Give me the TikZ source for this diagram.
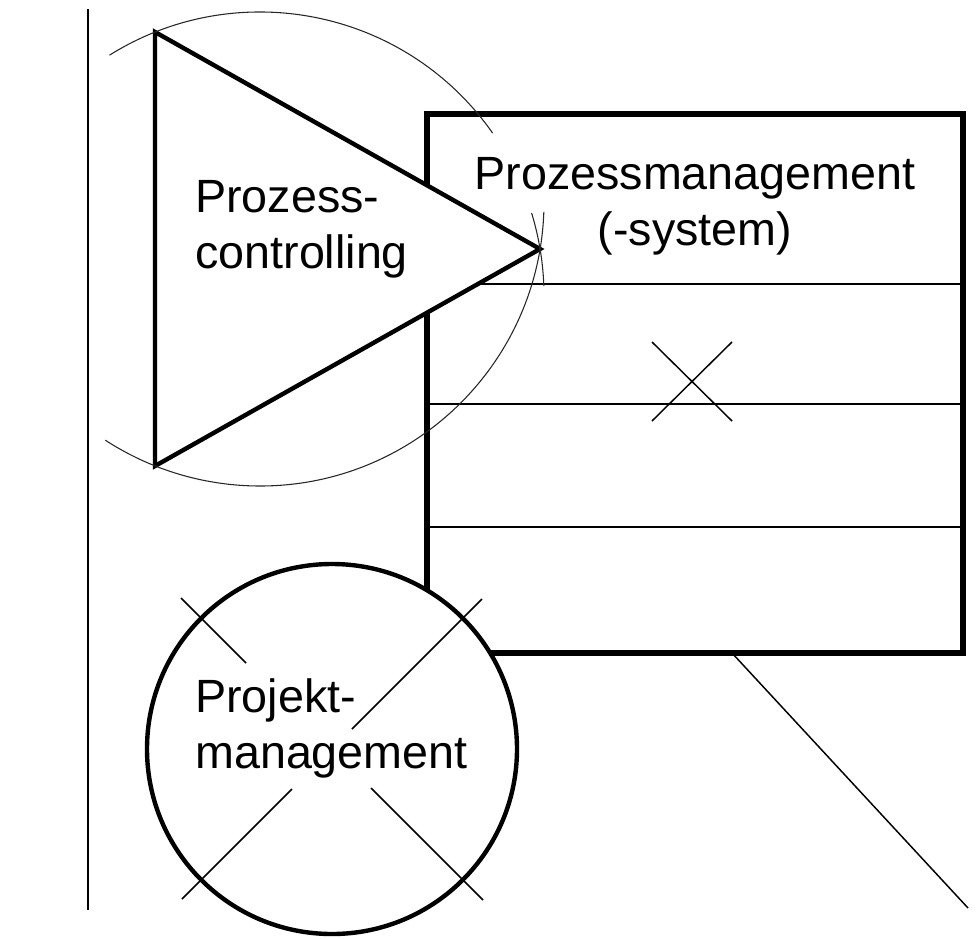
\documentclass[tikz,border=0pt]{standalone}
\usepackage{fontspec}
\setmainfont{Liberation Sans}

\begin{document}
\begin{tikzpicture}[x=0.75pt,y=0.75pt,yscale=-1,xscale=1,
    frame/.style={line width=4.2pt},
    outline/.style={line width=3.3pt, fill=white},
    fine/.style={line width=1.1pt},
    construct/.style={line width=0.8pt, color=black!85},
    lbl/.style={inner sep=0pt, align=left, font=\fontsize{35}{42}\selectfont}]
            \useasboundingbox (0,0) rectangle (979,939);
            % left border line
            \draw [fine] (88,9) -- (88,910);
            % Prozessmanagement block
            \draw [frame] (427,114) rectangle (963,653);
            \draw [fine] (427,284) -- (963,284) (427,404) -- (963,404) (427,527) -- (963,527);
            \draw [fine] (652,342) -- (732,421) (652,421) -- (732,342);
            \draw [fine] (732,653) -- (968,908);
            % Prozesscontrolling triangle
            \coordinate (top) at (155,32);
            \coordinate (apex) at (540,249);
            \coordinate (bottom) at (155,466);
            \draw [outline, line join=miter] (top) -- (apex) -- (bottom) -- cycle;
            % compass arcs
            \draw [construct] (260,296) ++(-122:284) arc [start angle=-122, end angle=-35, radius=284];
            \draw [construct] (260,296) ++(-17:284) arc [start angle=-17, end angle=-2, radius=284];
            \draw [construct] (260,202) ++(2:284) arc [start angle=2, end angle=123, radius=284];
            % Projektmanagement circle
            \coordinate (pmc) at (332,749);
            \draw [outline] (pmc) circle [radius=185];
            \draw [fine] (pmc) ++(-151,-151) -- ++(65,65);
            \draw [fine] (pmc) ++(39,39) -- ++(112,112);
            \draw [fine] (pmc) ++(20,-20) -- ++(130,-130);
            \draw [fine] (pmc) ++(-40,40) -- ++(-110,110);
            % labels (base = last line)
            \node (ctrl) [lbl, anchor=base west] at (195,268) {Prozess-\\controlling};
            \node (pm) [lbl, align=center, anchor=base] at (695,245) {Prozessmanagement\\(-system)};
            \node (proj) [lbl, anchor=base west] at (195,768) {Projekt-\\management};
        \end{tikzpicture}
\end{document}
